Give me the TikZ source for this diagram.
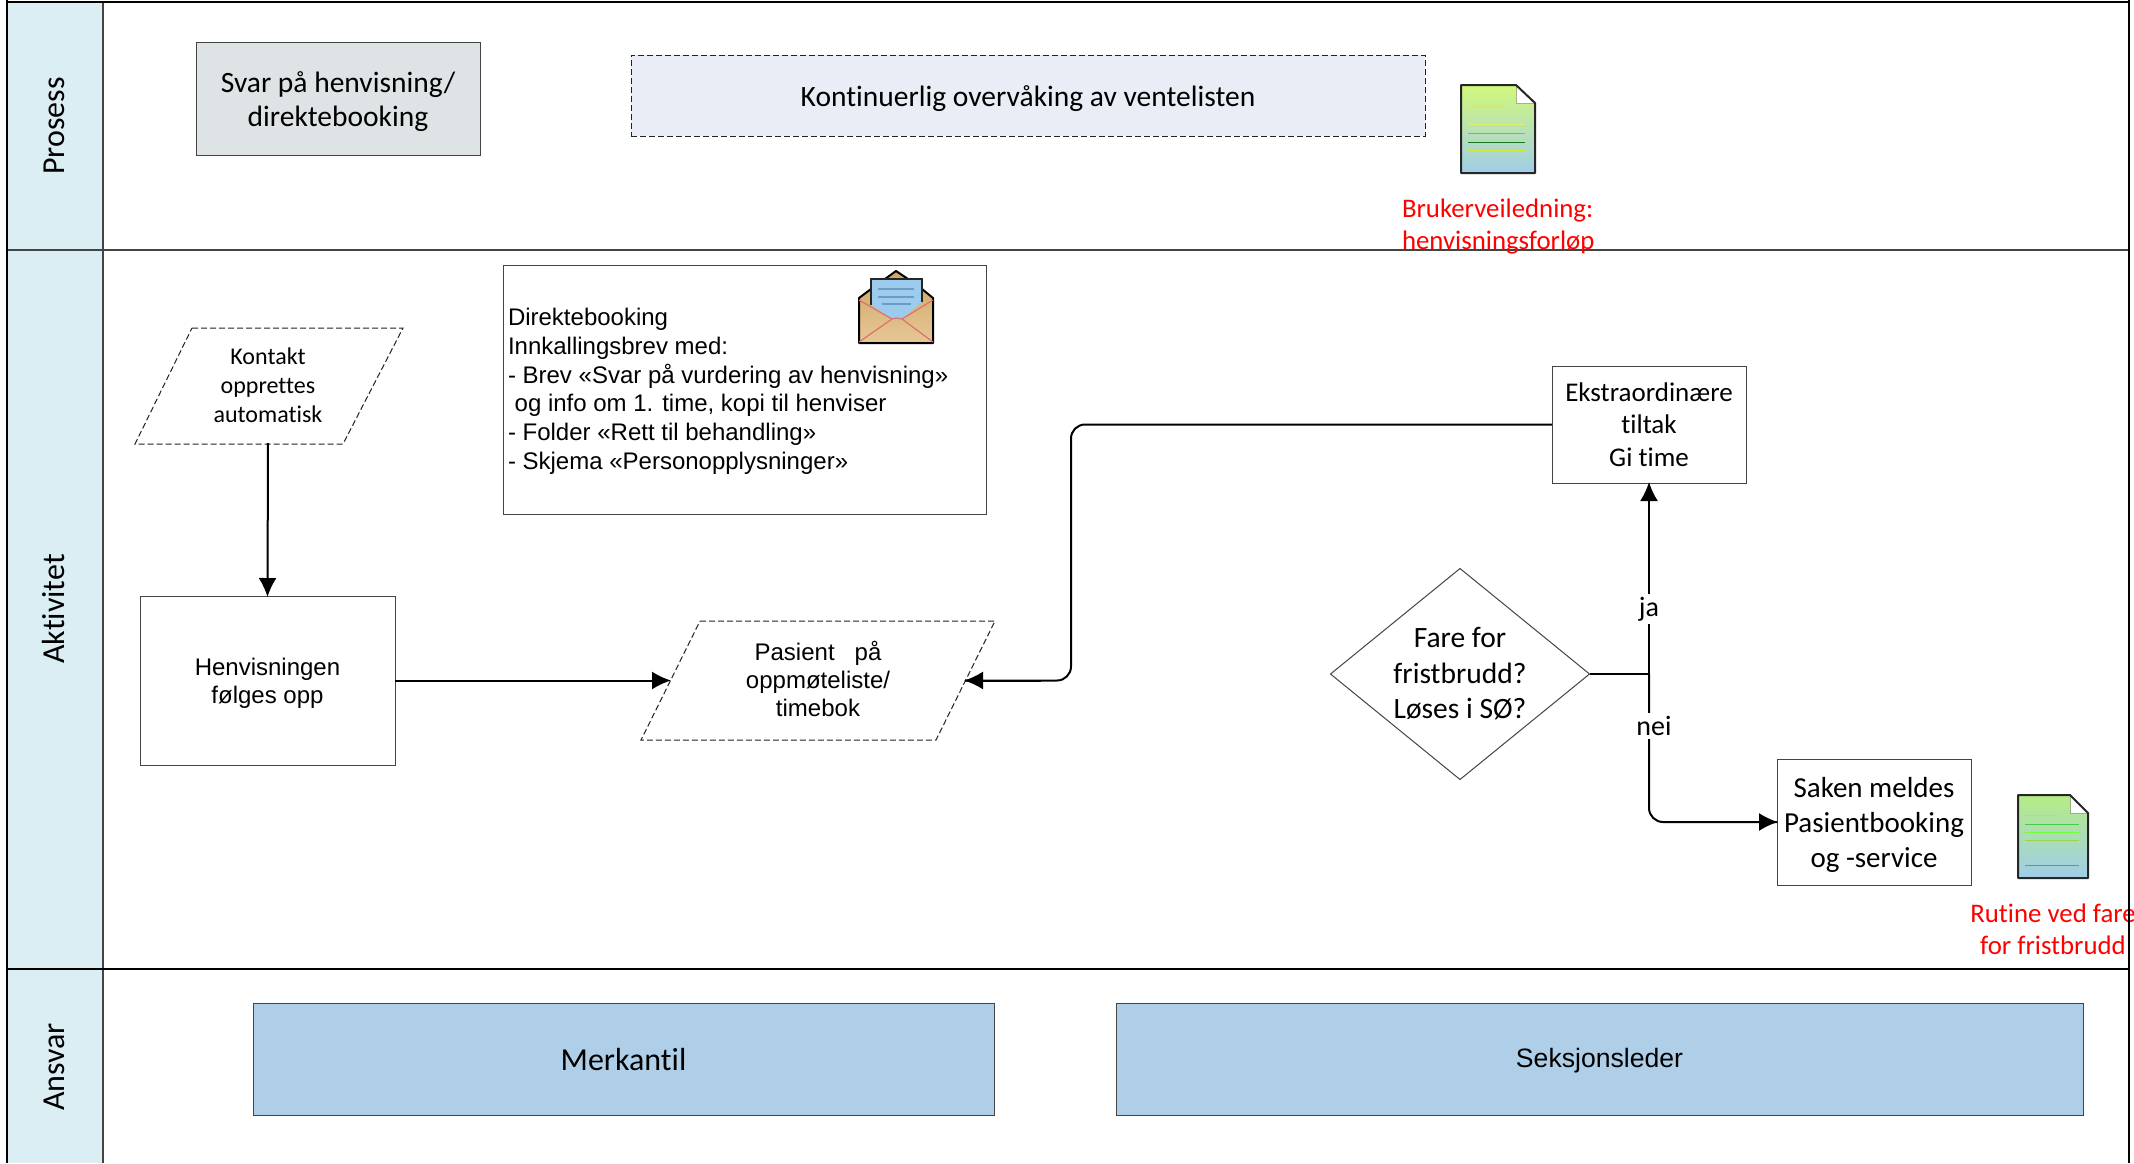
\documentclass[tikz,border=0pt]{standalone}
\usepackage{fontspec}
\setmainfont[RawFeature={-liga}]{Carlito}
\newfontfamily\arialf{Liberation Sans}
\usetikzlibrary{arrows.meta,shapes.geometric}
\definecolor{lanehead}{HTML}{DAEEF3}
\definecolor{greybox}{HTML}{DEE3E6}
\definecolor{paleblue}{HTML}{E9EEF6}
\definecolor{rolefill}{HTML}{AFCFE8}
\definecolor{edgegrey}{HTML}{444444}
\definecolor{dashgrey}{HTML}{222222}
\definecolor{docbottom}{HTML}{9FCDE9}
\definecolor{docone}{HTML}{D2F87A}
\definecolor{doctwo}{HTML}{B6EC84}
\definecolor{envtop}{HTML}{CFA662}
\definecolor{envbottom}{HTML}{E6C796}
\definecolor{paper}{HTML}{9CCBEE}
\definecolor{paperline}{HTML}{6A9CC4}
\definecolor{envred}{HTML}{E07070}
\tikzset{
  x=1pt,y=-1pt,
  every node/.style={inner sep=0pt,outer sep=0pt,align=center},
  box/.style={draw=edgegrey,line width=1pt,fill=white,anchor=north west},
  lanetext/.style={rotate=90,font=\fontsize{32}{38}\selectfont},
  body/.style={font=\fontsize{29.5}{34}\selectfont},
  conn/.style={draw=black,line width=2pt,-{Latex[length=19pt,width=18pt]},shorten >=-1pt},
  plainconn/.style={draw=black,line width=2pt,rounded corners=14pt},
  redtext/.style={text=red,font=\fontsize{26.8}{32}\selectfont},
  flowlabel/.style={fill=white,font=\fontsize{28}{32}\selectfont,inner sep=3pt},
  dash box/.style={draw=dashgrey,line width=1pt,dash pattern=on 6pt off 3pt},
}
\newcommand{\docicon}[7]{%
  \shade[top color=#7,bottom color=docbottom] (#1,#2) -- (#5,#2) -- (#3,#6) -- (#3,#4) -- (#1,#4) -- cycle;
  \fill[white] (#5,#2) -- (#3,#6) -- (#5,#6) -- cycle;
  \draw[line width=1pt,color=#7!60!black!70] (#5,#2) -- (#5,#6) -- (#3,#6);
  \draw[line width=2pt,color=black!85,line join=round] (#1,#2) -- (#5,#2) -- (#3,#6) -- (#3,#4) -- (#1,#4) -- cycle;
}
\begin{document}
\begin{tikzpicture}
\useasboundingbox (0,0) rectangle (2134,1163);
\fill[white] (0,0) rectangle (2134,1163);
% lanes
\fill[lanehead] (7,2) rectangle (103,1163);
\draw[edgegrey,line width=1.6pt] (103,2) -- (103,1163);
\draw[black,line width=2pt] (7,2) -- (2129,2);
\draw[edgegrey,line width=1.6pt] (7,250) -- (2129,250);
\draw[black,line width=1.4pt] (7,969) -- (2129,969);
\node[lanetext] (lane1) at (54,126) {Prosess};
\node[lanetext] (lane2) at (54,609) {Aktivitet};
\node[lanetext] (lane3) at (54,1067) {Ansvar};
% prosess
\node[box,fill=greybox,minimum width=284pt,minimum height=113pt] (svar) at (196,42) {};
\node[body,yshift=-3pt] (svartxt) at (svar.center) {Svar på henvisning/\\direktebooking};
\node[box,dash box,fill=paleblue,minimum width=794pt,minimum height=81pt] (kont) at (631,55) {};
\node[body,yshift=-3pt] (konttxt) at (kont.center) {Kontinuerlig overvåking av ventelisten};
\docicon{1461}{85}{1535}{173}{1516}{103}{docone}
\foreach \yy/\xa/\xb/\cc in {106/1468/1503/yellow!70!green!60!white,124/1468/1525/yellow!80!green!60!white,133/1468/1525/green!40!black!50!white,142/1468/1525/green!40!black!90,150/1468/1525/yellow!80!green!80!white,159/1468/1525/green!40!black!40!yellow!60}
  \draw[\cc,line width=1pt] (\xa,\yy) -- (\xb,\yy);
\node[redtext,align=left,anchor=west] (brukerv) at (1402,226.5) {Brukerveiledning:\\henvisningsforløp};
% direktebooking
\node[box,minimum width=483pt,minimum height=249pt] (direkte) at (503,265) {};
\node[anchor=north west,align=left,font=\arialf\fontsize{24}{28.8}\selectfont] (direktetxt) at (508,308) {Direktebooking\\Innkallingsbrev med:\\- Brev «Svar på vurdering av henvisning»\\\ og info om 1. time, kopi til henviser\\- Folder «Rett til behandling»\\- Skjema «Personopplysninger»};
% envelope
\shade[top color=envtop,bottom color=envbottom] (859,298) -- (871,289) -- (885,279) -- (896,271) -- (908,279) -- (922,289) -- (933,298) -- (933,343) -- (859,343) -- cycle;
\fill[paper] (871,279) -- (922,279) -- (922,302) -- (902,319) -- (892,319) -- (871,305) -- cycle;
\draw[black,line width=2pt,line join=round] (871,289) -- (859,298) -- (859,343) -- (933,343) -- (933,298) -- (922,289) (885,279) -- (896,271) -- (908,279);
\draw[black!85,line width=1.6pt] (871,305) -- (871,279) -- (922,279) -- (922,302);
\foreach \yy/\xa/\xb in {289/878/914,297/878/914,304/882/911}
  \draw[paperline,line width=1.2pt] (\xa,\yy) -- (\xb,\yy);
\draw[envred,line width=1.2pt] (859,300) -- (892,319) -- (896,318) -- (902,319) -- (933,300) (859,342) -- (892,319) (902,319) -- (933,342);
% aktivitet
\draw[dash box] (192,328) -- (403,328) -- (343,444) -- (135,444) -- cycle;
\node[minimum width=150pt,minimum height=116pt,font=\fontsize{24}{29}\selectfont] (kontakt) at (268,385) {Kontakt\\opprettes\\automatisk};
\node[box,minimum width=255pt,minimum height=169pt] (henv) at (140,596) {};
\node[font=\arialf\fontsize{24}{28.5}\selectfont,yshift=-3pt] (henvtxt) at (henv.center) {Henvisningen\\følges opp};
\draw[dash box] (700,621) -- (995,621) -- (936,740) -- (641,740) -- cycle;
\node[font=\arialf\fontsize{24}{28}\selectfont] (pas) at (818,679) {Pasient\ \ \ på\\oppmøteliste/\\timebok};
\coordinate (pasL) at (670,680.5);
\coordinate (pasR) at (965,680.5);
\node[box,minimum width=194pt,minimum height=117pt,font=\fontsize{27}{32.5}\selectfont] (ekstra) at (1552,366) {Ekstraordinære\\tiltak\\Gi time};
\node[draw=edgegrey,line width=1pt,shape=diamond,aspect=1.25,minimum width=259pt,minimum height=211pt,fill=white] (dia) at (1460,674) {};
\node[font=\fontsize{29.5}{35.5}\selectfont] (diatxt) at (1460,674) {Fare for\\fristbrudd?\\Løses i SØ?};
\node[box,minimum width=194pt,minimum height=126pt] (saken) at (1777,759) {};
\node[font=\fontsize{29}{35}\selectfont,yshift=-3pt] (sakentxt) at (saken.center) {Saken meldes\\Pasientbooking\\og -service};
\docicon{2018}{795}{2088}{878}{2070}{813}{doctwo}
\foreach \yy/\xa/\xb/\cc in {815/2025/2058/yellow!50!green!60!white,824/2025/2079/green!70!black!70!white,832/2025/2079/green!70!yellow!80!white,840/2025/2079/yellow!50!green!80!white,865/2025/2079/green!70!black!80!white}
  \draw[\cc,line width=1pt] (\xa,\yy) -- (\xb,\yy);
\node[redtext,anchor=center] (rutine) at (2053,929) {Rutine ved fare\\for fristbrudd};
\draw[black,line width=2.4pt] (7,0) -- (7,1163);
\draw[black,line width=2pt] (2129,0) -- (2129,1163);
% connectors
\draw[conn] (kontakt.south) -- (henv.north);
\draw[conn] (henv.east) -- (pasL);
\coordinate (bendA) at (1071,424.5);
\coordinate (bendB) at (1071,680.5);
\coordinate (juncA) at (1649,674);
\coordinate (bendC) at (1649,822);
\draw[plainconn] (ekstra.west) -- (bendA) -- (bendB) -- (pasR);
\draw[conn] (bendB) ++(-30,0) -- (pasR);
\draw[plainconn] (dia.east) -- (juncA);
\draw[conn] (juncA) -- (ekstra.south);
\draw[plainconn] (juncA) -- (bendC) -- (saken.west);
\draw[conn] (bendC) ++(30,0) -- (saken.west);
\node[flowlabel] (ja) at (1649,609) {ja};
\node[flowlabel] (nei) at (1654,726) {nei};
% ansvar
\node[box,fill=rolefill,minimum width=741pt,minimum height=112pt,font=\fontsize{32}{36}\selectfont] (merk) at (253,1003) {Merkantil};
\node[box,fill=rolefill,minimum width=967pt,minimum height=112pt] (seks) at (1116,1003) {};
\node[font=\arialf\fontsize{26.6}{32}\selectfont,yshift=-1.5pt] (sekstxt) at (seks.center) {Seksjonsleder};
\end{tikzpicture}
\end{document}
